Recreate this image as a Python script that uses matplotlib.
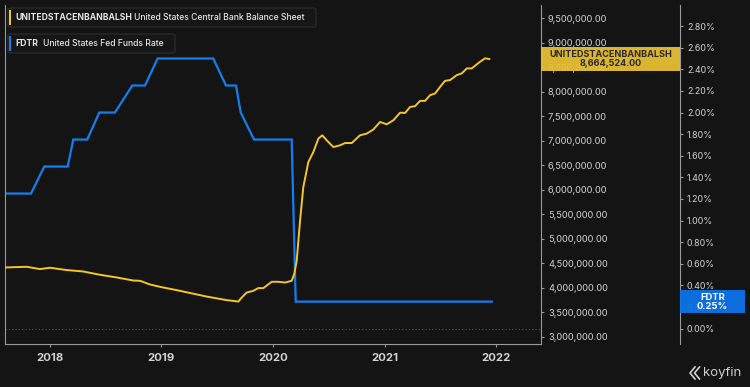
import matplotlib
matplotlib.use("Agg")
import matplotlib.pyplot as plt
import matplotlib.transforms as mtransforms
from matplotlib.patches import FancyBboxPatch, Rectangle
from matplotlib.lines import Line2D
from matplotlib.ticker import FuncFormatter, FixedLocator

plt.rcParams['font.family'] = ['Inter', 'DejaVu Sans']

# ---------------- data ----------------
bs_time = [2017.604, 2017.792, 2017.911, 2018.001, 2018.151, 2018.299, 2018.449, 2018.599,
           2018.747, 2018.808, 2018.897, 2018.987, 2019.136, 2019.405, 2019.585, 2019.689,
           2019.719, 2019.764, 2019.823, 2019.868, 2019.913, 2019.988, 2020.047, 2020.107,
           2020.167, 2020.190, 2020.212, 2020.242, 2020.271, 2020.316, 2020.361, 2020.406,
           2020.441, 2020.481, 2020.540, 2020.600, 2020.645, 2020.705, 2020.779, 2020.839,
           2020.898, 2020.959, 2021.019, 2021.078, 2021.138, 2021.183, 2021.228, 2021.272,
           2021.317, 2021.362, 2021.407, 2021.452, 2021.497, 2021.541, 2021.586, 2021.646,
           2021.691, 2021.736, 2021.780, 2021.855, 2021.900, 2021.938]
bs_values = [4417000, 4431000, 4384000, 4411000, 4364000, 4335000, 4268000, 4213000,
             4151000, 4145000, 4070000, 4022000, 3955000, 3824000, 3751000, 3722000,
             3804000, 3906000, 3941000, 3996000, 3996000, 4125000, 4125000, 4110000,
             4145000, 4282000, 4554000, 5372000, 6053000, 6564000, 6769000, 7043000,
             7110000, 7008000, 6871000, 6906000, 6953000, 6953000, 7110000, 7145000,
             7227000, 7382000, 7335000, 7417000, 7571000, 7566000, 7689000, 7703000,
             7812000, 7812000, 7928000, 7963000, 8098000, 8221000, 8235000, 8337000,
             8372000, 8474000, 8474000, 8609000, 8679000, 8664524]

ff_time = [2017.604, 2017.831, 2017.950, 2018.160, 2018.210, 2018.335, 2018.443, 2018.583,
           2018.739, 2018.852, 2018.966, 2019.464, 2019.578, 2019.668, 2019.710, 2019.829,
           2020.167, 2020.203, 2021.960]
ff_rate = [1.25, 1.25, 1.50, 1.50, 1.75, 1.75, 2.00, 2.00,
           2.25, 2.25, 2.50, 2.50, 2.25, 2.25, 2.00, 1.75,
           1.75, 0.25, 0.25]

year_ticks = [2018, 2019, 2020, 2021, 2022]
bs_ticks = [3000000, 3500000, 4000000, 4500000, 5000000, 5500000, 6000000, 6500000,
            7000000, 7500000, 8000000, 8500000, 9000000, 9500000]
rate_ticks = [0.0, 0.2, 0.4, 0.6, 0.8, 1.0, 1.2, 1.4, 1.6, 1.8, 2.0, 2.2, 2.4, 2.6, 2.8]

bs_code = "UNITEDSTACENBANBALSH"
bs_name = "United States Central Bank Balance Sheet"
ff_code = "FDTR"
ff_name = "United States Fed Funds Rate"

# ---------------- style ----------------
BG = '#141414'
YEL = '#f4c62a'
YEL_BOX = '#e6bf33'
BLUE = '#137ef0'
BLUE_BOX = '#0b74e8'
SPINE = '#9a9a9a'
TXT = '#d2d2d2'

W, H = 750, 387
fig = plt.figure(figsize=(W / 100, H / 100), dpi=100, facecolor=BG)

def fx(x):
    return x / W

def fy(y):
    return 1 - y / H

L, R, T, B = 5, 541, 5, 344
ax = fig.add_axes([fx(L), fy(B), fx(R - L), (B - T) / H])
ax.set_facecolor(BG)
ax2 = ax.twinx()

ax.set_xlim(2017.598, 2022.401)
ax.set_ylim(2857000, 9766000)
ax2.set_ylim(-0.142, 2.995)

# lines
ax2.axhline(0, color='#5a5a5a', lw=0.8, ls=(0, (1, 2)), zorder=1)
ax2.plot(ff_time, ff_rate, color=BLUE, lw=1.6, solid_joinstyle='miter', zorder=2)
ax.plot(bs_time, bs_values, color=YEL, lw=1.4, zorder=3)
ax.set_zorder(2)
ax2.set_zorder(1)
ax.patch.set_visible(False)
ax2.patch.set_facecolor(BG)
ax2.patch.set_visible(True)

# spines
for a in (ax, ax2):
    a.spines['top'].set_visible(False)
    for s in a.spines.values():
        s.set_color(SPINE)
        s.set_linewidth(0.8)
ax2.spines['left'].set_visible(False)
ax2.spines['bottom'].set_visible(False)
ax2.spines['right'].set_position(('axes', (680 - L) / (R - L)))

# x axis
ax.xaxis.set_major_locator(FixedLocator(year_ticks))
ax.xaxis.set_major_formatter(FuncFormatter(lambda v, p: f"{int(round(v))}"))
ax.tick_params(axis='x', colors=SPINE, length=2.5, width=0.8, pad=4,
               labelcolor=TXT, labelsize=8.2)
for lab in ax.get_xticklabels():
    lab.set_fontweight('bold')

# balance sheet axis (right side of plot)
ax.yaxis.tick_right()
ax.yaxis.set_major_locator(FixedLocator(bs_ticks))
ax.yaxis.set_major_formatter(FuncFormatter(lambda v, p: f"{v:,.2f}"))
ax.tick_params(axis='y', which='both', left=False, right=True, labelleft=False,
               labelright=True, colors=SPINE, length=2, width=0.8, pad=3,
               labelcolor=TXT, labelsize=6.7)

# rate axis
ax2.yaxis.set_major_locator(FixedLocator(rate_ticks))
ax2.yaxis.set_major_formatter(FuncFormatter(lambda v, p: f"{v:.2f}%"))
ax2.tick_params(axis='y', colors=SPINE, length=2, width=0.8, pad=3,
                labelcolor=TXT, labelsize=6.4)

# value boxes
tr = mtransforms.blended_transform_factory(ax.transAxes, ax.transData)
last_bs = bs_values[-1]
hb = 11.7 / ((B - T) / (9766000 - 2857000))
ax.add_patch(Rectangle((1.0, last_bs - hb), (680 - R) / (R - L), 2 * hb, transform=tr,
                       facecolor=YEL_BOX, edgecolor='none', alpha=0.95,
                       clip_on=False, zorder=10))
xc = 1.0 + (680 - R) / (R - L) / 2
ax.text(xc, last_bs + hb * 0.36, bs_code, transform=tr, ha='center', va='center',
        fontsize=6.5, fontweight='bold', color='#2a2a2a', zorder=11, clip_on=False)
ax.text(xc, last_bs - hb * 0.40, f"{last_bs:,.2f}", transform=tr, ha='center', va='center',
        fontsize=6.5, fontweight='bold', color='#2a2a2a', zorder=11, clip_on=False)

tr2 = mtransforms.blended_transform_factory(ax2.transAxes, ax2.transData)
last_ff = ff_rate[-1]
hr = 11.85 / ((B - T) / (2.995 + 0.142))
x0 = (680 - L) / (R - L)
wbox = (745 - 680) / (R - L)
ax2.add_patch(Rectangle((x0, last_ff - hr), wbox, 2 * hr, transform=tr2,
                        facecolor=BLUE_BOX, edgecolor='none', alpha=0.95,
                        clip_on=False, zorder=10))
ax2.text(x0 + wbox / 2, last_ff + hr * 0.36, ff_code, transform=tr2, ha='center', va='center',
         fontsize=6.8, fontweight='bold', color='white', zorder=11, clip_on=False)
ax2.text(x0 + wbox / 2, last_ff - hr * 0.40, f"{last_ff:.2f}%", transform=tr2, ha='center',
         va='center', fontsize=6.8, fontweight='bold', color='white', zorder=11, clip_on=False)

# legend boxes
def legend_box(x0, y0, x1, y1, color, code, name, name_x):
    fig.add_artist(FancyBboxPatch((fx(x0), fy(y1)), fx(x1 - x0), (y1 - y0) / H,
                                  boxstyle='round,pad=0,rounding_size=0.004',
                                  transform=fig.transFigure, facecolor='#161616',
                                  edgecolor='#2e2e2e', lw=0.8, zorder=20))
    fig.add_artist(Rectangle((fx(x0 + 1.2), fy(y1 - 1.8)), fx(1.6), (y1 - y0 - 3.6) / H,
                             transform=fig.transFigure, facecolor=color,
                             edgecolor='none', zorder=21))
    yc = fy((y0 + y1) / 2)
    fig.text(fx(x0 + 7), yc, code, ha='left', va='center', fontsize=6.2,
             fontweight='bold', color='#e4e4e4', zorder=22)
    fig.text(fx(name_x), yc, name, ha='left', va='center', fontsize=6.2,
             fontweight='medium', color='#e4e4e4', zorder=22)

legend_box(8, 8, 316, 27, YEL, bs_code, bs_name, 134)
legend_box(8, 34, 175, 53, BLUE, ff_code, ff_name, 43)

# koyfin logo
for dx in (0, 4.5):
    fig.add_artist(Line2D([fx(695 + dx), fx(690 + dx), fx(695 + dx)],
                          [fy(367), fy(373), fy(379)], transform=fig.transFigure,
                          color='#cfcfcf', lw=1.2))
fig.text(fx(703), fy(373), "koyfin", ha='left', va='center', fontsize=9.5,
         color='#cfcfcf')

fig.savefig('out.png', dpi=100, facecolor=BG)
